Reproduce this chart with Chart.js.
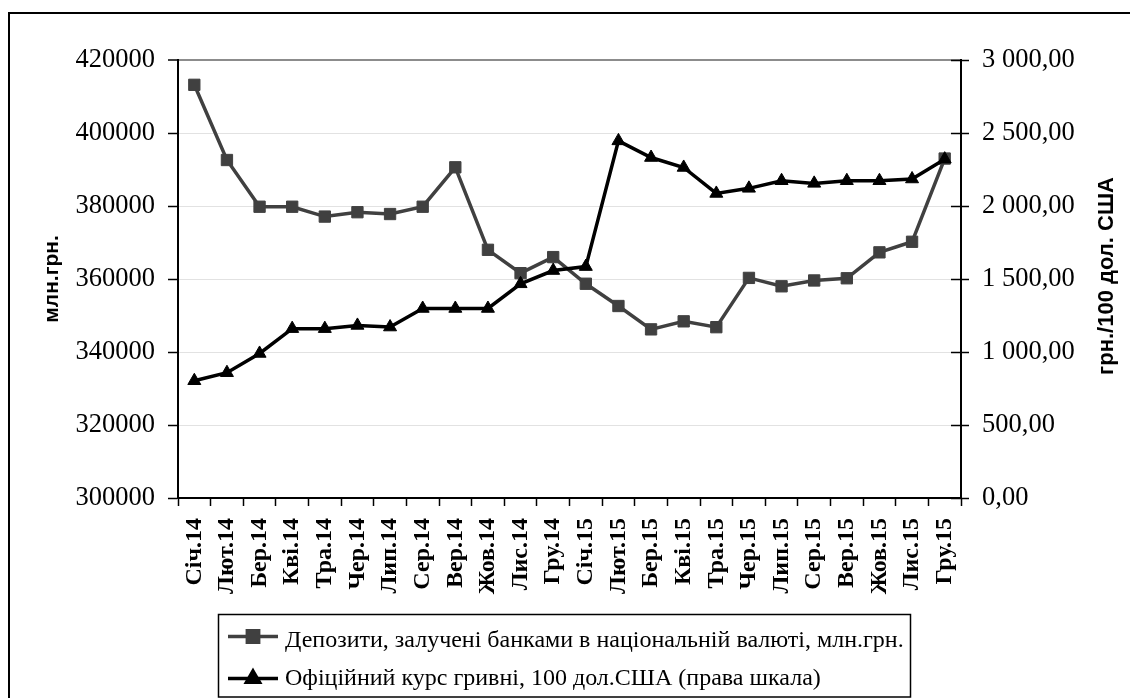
<!DOCTYPE html>
<html lang="uk">
<head>
<meta charset="utf-8">
<title>Депозити та офіційний курс гривні</title>
<script src="https://cdn.jsdelivr.net/npm/chart.js@4.4.1/dist/chart.umd.min.js"></script>
<style>
  html, body { margin: 0; padding: 0; background: #ffffff; }
  #wrap { width: 1130px; height: 698px; position: relative; }
</style>
</head>
<body>
<div id="wrap"><canvas id="chart" width="1130" height="698"></canvas></div>
<script>
// Months, Jan 2014 – Dec 2015
const months = [
  'Січ.14', 'Лют.14', 'Бер.14', 'Кві.14', 'Тра.14', 'Чер.14',
  'Лип.14', 'Сер.14', 'Вер.14', 'Жов.14', 'Лис.14', 'Гру.14',
  'Січ.15', 'Лют.15', 'Бер.15', 'Кві.15', 'Тра.15', 'Чер.15',
  'Лип.15', 'Сер.15', 'Вер.15', 'Жов.15', 'Лис.15', 'Гру.15'
];

// Deposits in national currency, mln UAH (left scale)
const deposits = [
  413200, 392600, 379800, 379800, 377100, 378300,
  377800, 379800, 390600, 368000, 361600, 366000,
  358700, 352600, 346200, 348400, 346800, 360300,
  358000, 359600, 360200, 367300, 370200, 393000
];

// Official hryvnia rate, UAH per 100 USD (right scale)
const rate = [
  803, 858, 990, 1160, 1160, 1182,
  1171, 1298, 1298, 1298, 1467, 1558,
  1585, 2446, 2332, 2264, 2086, 2121,
  2173, 2155, 2173, 2173, 2185, 2321
];

const seriesNames = [
  'Депозити, залучені банками в національній валюті, млн.грн.',
  'Офіційний курс гривні, 100 дол.США (права шкала)'
];
const leftTitle = 'млн.грн.';
const rightTitle = 'грн./100 дол. США';

const SERIF = '"Liberation Serif", "Times New Roman", serif';
const SANS = '"Liberation Sans", Arial, sans-serif';
const DEP_COLOR = '#404040';
const RATE_COLOR = '#000000';

function fmtRight(v) {
  const parts = v.toFixed(2).split('.');
  const intPart = parts[0].replace(/\B(?=(\d{3})+(?!\d))/g, ' ');
  return intPart + ',' + parts[1];
}

// Frame, right-axis inner ticks, right title and the boxed legend
const decorations = {
  id: 'decorations',
  afterDraw(chart) {
    const ctx = chart.ctx;
    const area = chart.chartArea;
    const yR = chart.scales.yR;
    ctx.save();

    // inner half of the right-axis tick marks
    ctx.strokeStyle = '#000';
    ctx.lineWidth = 1.5;
    yR.ticks.forEach((t, i) => {
      const y = Math.round(yR.getPixelForTick(i)) + 0.5;
      ctx.beginPath();
      ctx.moveTo(area.right - 10, y);
      ctx.lineTo(area.right, y);
      ctx.stroke();
    });

    // right axis title, reading bottom to top
    ctx.save();
    ctx.translate(1107, 276);
    ctx.rotate(-Math.PI / 2);
    ctx.font = 'bold 22px ' + SANS;
    ctx.fillStyle = '#000';
    ctx.textAlign = 'center';
    ctx.textBaseline = 'middle';
    ctx.fillText(rightTitle, 0, 0);
    ctx.restore();

    // legend box
    ctx.lineWidth = 1.5;
    ctx.strokeStyle = '#000';
    ctx.strokeRect(218.5, 614.5, 692, 82.5);

    const rows = [
      { lineY: 636.5, baseY: 646.5, color: DEP_COLOR, style: 'rect', r: 8 },
      { lineY: 678.5, baseY: 685, color: RATE_COLOR, style: 'triangle', r: 7.5 }
    ];
    rows.forEach((row, i) => {
      ctx.strokeStyle = row.color;
      ctx.fillStyle = row.color;
      ctx.lineWidth = 3.5;
      ctx.beginPath();
      ctx.moveTo(228, row.lineY);
      ctx.lineTo(278, row.lineY);
      ctx.stroke();
      Chart.helpers.drawPoint(ctx, { pointStyle: row.style, radius: row.r, rotation: 0, borderWidth: 1 }, 253, row.lineY);
      ctx.fillStyle = '#000';
      ctx.font = '24px ' + SERIF;
      ctx.textAlign = 'left';
      ctx.textBaseline = 'alphabetic';
      ctx.fillText(seriesNames[i], 285, row.baseY);
    });

    // outer frame
    ctx.lineWidth = 2;
    ctx.strokeStyle = '#000';
    ctx.strokeRect(9, 13, 1200, 800);
    ctx.restore();
  }
};

new Chart(document.getElementById('chart'), {
  type: 'line',
  data: {
    labels: months,
    datasets: [
      {
        label: seriesNames[0],
        data: deposits,
        yAxisID: 'y',
        order: 1,
        borderColor: DEP_COLOR,
        backgroundColor: DEP_COLOR,
        borderWidth: 3.5,
        tension: 0,
        pointStyle: 'rect',
        pointRadius: 8,
        pointHoverRadius: 8,
        pointBackgroundColor: DEP_COLOR,
        pointBorderColor: DEP_COLOR,
        pointBorderWidth: 1
      },
      {
        label: seriesNames[1],
        data: rate,
        yAxisID: 'yR',
        order: 0,
        borderColor: RATE_COLOR,
        backgroundColor: RATE_COLOR,
        borderWidth: 3.5,
        tension: 0,
        pointStyle: 'triangle',
        pointRadius: 7.5,
        pointHoverRadius: 7.5,
        pointBackgroundColor: RATE_COLOR,
        pointBorderColor: RATE_COLOR,
        pointBorderWidth: 1
      }
    ]
  },
  options: {
    responsive: false,
    devicePixelRatio: 1,
    animation: false,
    layout: { padding: { top: 60, left: 0, right: 0, bottom: 0 } },
    plugins: {
      legend: { display: false },
      tooltip: { enabled: false },
      title: { display: false }
    },
    scales: {
      x: {
        type: 'category',
        offset: true,
        afterFit(scale) { scale.height = 200; },
        grid: {
          offset: true,
          drawOnChartArea: false,
          drawTicks: true,
          tickLength: 8,
          tickColor: '#000',
          tickWidth: 1.5
        },
        border: { display: true, color: '#000', width: 2 },
        ticks: {
          autoSkip: false,
          minRotation: 90,
          maxRotation: 90,
          padding: 12,
          color: '#000',
          font: { family: SERIF, size: 24, weight: 'bold' }
        }
      },
      y: {
        position: 'left',
        min: 300000,
        max: 420000,
        afterFit(scale) { scale.width = 178; },
        grid: {
          drawTicks: true,
          tickLength: 10,
          tickColor: '#000',
          tickWidth: 1.5,
          color: ctx => (ctx.tick && ctx.tick.value === 420000) ? '#8c8c8c' : '#e2e2e2',
          lineWidth: ctx => (ctx.tick && ctx.tick.value === 420000) ? 2 : 1
        },
        border: { display: true, color: '#000', width: 2 },
        ticks: {
          stepSize: 20000,
          padding: 13,
          color: '#000',
          font: { family: SERIF, size: 26.5 },
          callback: v => String(v)
        },
        title: {
          display: true,
          text: leftTitle,
          color: '#000',
          font: { family: SANS, size: 21, weight: 'bold' },
          padding: { top: 40, bottom: 0 }
        }
      },
      yR: {
        position: 'right',
        min: 0,
        max: 3000,
        afterFit(scale) { scale.width = 169; },
        grid: {
          drawOnChartArea: false,
          drawTicks: true,
          tickLength: 8,
          tickColor: '#000',
          tickWidth: 1.5
        },
        border: { display: true, color: '#000', width: 2 },
        ticks: {
          stepSize: 500,
          padding: 13,
          color: '#000',
          font: { family: SERIF, size: 26.5 },
          callback: v => fmtRight(v)
        }
      }
    }
  },
  plugins: [decorations]
});
</script>
</body>
</html>
